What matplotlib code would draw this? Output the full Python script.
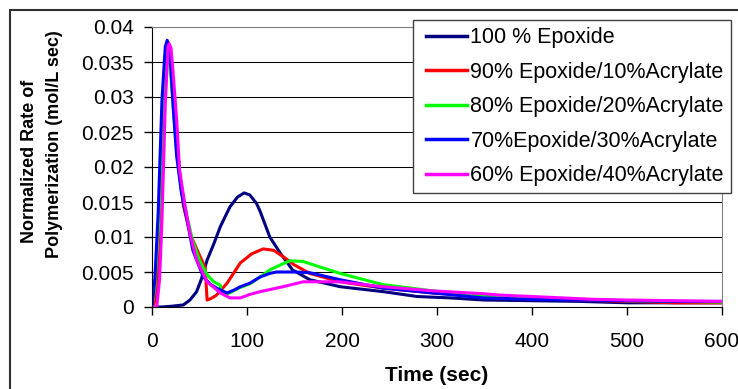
import numpy as np
import matplotlib.pyplot as plt
from matplotlib.patches import Rectangle

plt.rcParams['font.family'] = ['Liberation Sans', 'DejaVu Sans']

# 100 % Epoxide
t_100 = [0, 10, 20, 33, 40, 47, 52, 58, 65, 72, 82, 90, 97, 103, 110, 114, 124, 135, 148,
         166, 198, 243, 279, 314, 349, 400, 450, 500, 550, 600]
r_100 = [0, 0, 0.0001, 0.0003, 0.001, 0.0022, 0.004, 0.0067, 0.009, 0.0115, 0.0143, 0.0157,
         0.0163, 0.016, 0.0148, 0.0136, 0.010, 0.0077, 0.0053, 0.0039, 0.0029, 0.0022, 0.0015,
         0.0013, 0.0010, 0.0009, 0.0008, 0.0006, 0.0006, 0.0006]

# 90% Epoxide/10%Acrylate
t_90 = [0, 4, 8, 12, 15, 17, 19, 22, 26, 30, 33, 40, 49, 56, 58, 62, 68, 79, 93, 105, 117,
        128, 138, 150, 166, 198, 243, 296, 349, 400, 450, 500, 550, 600]
r_90 = [0, 0.001, 0.008, 0.025, 0.035, 0.0378, 0.037, 0.032, 0.024, 0.018, 0.0145, 0.0105,
        0.0077, 0.0056, 0.001, 0.0012, 0.0017, 0.0034, 0.0063, 0.0076, 0.0083, 0.0081, 0.0072,
        0.006, 0.0048, 0.0036, 0.0027, 0.002, 0.0016, 0.0012, 0.0010, 0.0008, 0.0006, 0.0006]

# 80% Epoxide/20%Acrylate
t_80 = [0, 3, 7, 11, 14, 16, 18, 21, 26, 31, 37, 43, 50, 58, 65, 72, 72.5, 80, 93, 103, 114,
        124, 135, 145, 159, 175, 198, 243, 296, 349, 400, 450, 500, 550, 600]
r_80 = [0, 0.003, 0.012, 0.028, 0.036, 0.0375, 0.036, 0.031, 0.022, 0.0168, 0.0128, 0.0094,
        0.0067, 0.0046, 0.0036, 0.0031, 0.0022, 0.0019, 0.0028, 0.0033, 0.0043, 0.0053, 0.006,
        0.0066, 0.0065, 0.0058, 0.0048, 0.0032, 0.0023, 0.0016, 0.0013, 0.0011, 0.0009,
        0.0008, 0.0007]

# 70%Epoxide/30%Acrylate
t_70 = [0, 3, 6.5, 10.5, 14, 16, 18, 19.6, 22.5, 26, 31, 37, 43, 54, 62, 68, 79, 86, 93, 103,
        114, 124, 131, 150, 166, 198, 243, 296, 349, 400, 450, 500, 550, 600]
r_70 = [0, 0.004, 0.0134, 0.0296, 0.0372, 0.0381, 0.037, 0.0348, 0.0281, 0.0215, 0.0163,
        0.0124, 0.0081, 0.0043, 0.0032, 0.0027, 0.002, 0.0024, 0.0029, 0.0034, 0.0043, 0.0048,
        0.005, 0.005, 0.0049, 0.0039, 0.0027, 0.002, 0.0013, 0.0011, 0.0010, 0.0009, 0.0008,
        0.0008]

# 60% Epoxide/40%Acrylate
t_60 = [0, 5, 8, 10.5, 14, 17, 18, 20, 22, 26, 29, 35, 40, 47, 58, 72, 82, 93, 103, 114, 138,
        159, 198, 243, 261, 296, 349, 366, 400, 464, 500, 550, 600]
r_60 = [0, 0, 0.004, 0.0124, 0.029, 0.0372, 0.0376, 0.037, 0.0339, 0.0267, 0.0196, 0.0143,
        0.0105, 0.0067, 0.0036, 0.002, 0.0013, 0.0013, 0.0018, 0.0022, 0.0029, 0.0036, 0.0036,
        0.0029, 0.0027, 0.0023, 0.0019, 0.0017, 0.0015, 0.0011, 0.0010, 0.0009, 0.0008]

labels = ['100 % Epoxide', '90% Epoxide/10%Acrylate', '80% Epoxide/20%Acrylate',
          '70%Epoxide/30%Acrylate', '60% Epoxide/40%Acrylate']
colors = ['#000080', '#ff0000', '#00ff00', '#0000ff', '#ff00ff']
yticks = [0, 0.005, 0.01, 0.015, 0.02, 0.025, 0.03, 0.035, 0.04]
ytick_labels = ['0', '0.005', '0.01', '0.015', '0.02', '0.025', '0.03', '0.035', '0.04']
xticks = [0, 100, 200, 300, 400, 500, 600]

fig = plt.figure(figsize=(7.38, 3.89), dpi=100)
ax = fig.add_axes([152/738, 1 - 307/389, (722 - 152)/738, (307 - 27)/389])

series = [(t_100, r_100), (t_90, r_90), (t_80, r_80), (t_70, r_70), (t_60, r_60)]
for (t, r), lab, c in zip(series, labels, colors):
    ax.plot(t, r, color=c, lw=2.2, label=lab, solid_joinstyle='round')

ax.set_xlim(0, 600)
ax.set_ylim(0, 0.04)
ax.set_xticks(xticks)
ax.set_yticks(yticks)
ax.set_yticklabels(ytick_labels)
for y in yticks[1:]:
    ax.axhline(y, color='black', lw=0.75, zorder=0)
ax.tick_params(labelsize=15, length=6, width=1, direction='out')
ax.tick_params(axis='x', pad=12)
ax.tick_params(axis='y', pad=7)

ax.spines['left'].set_color('black')
ax.spines['bottom'].set_color('black')
ax.spines['top'].set_color('#808080')
ax.spines['right'].set_color('#808080')

ax.set_xlabel('Time (sec)', fontsize=15, fontweight='bold', labelpad=11)
fig.text(30/738, 1 - 161/389, 'Normalized Rate of', rotation=90, fontsize=13,
         fontweight='bold', ha='center', va='center')
fig.text(55/738, 1 - 144/389, 'Polymerization (mol/L sec)', rotation=90, fontsize=13,
         fontweight='bold', ha='center', va='center')

fs = 15.5
leg = ax.legend(loc='upper left', bbox_to_anchor=(413/738, 1 - 20/389),
                bbox_transform=fig.transFigure, fontsize=fs, frameon=True,
                fancybox=False, framealpha=1, edgecolor='#404040', borderpad=0.33,
                labelspacing=0.63, handlelength=2.19, handletextpad=0.15, borderaxespad=0)
leg.get_frame().set_linewidth(1)
for line in leg.get_lines():
    line.set_linewidth(2.5)
    xd = np.asarray(line.get_xdata(), dtype=float)
    line.set_xdata(np.linspace(xd[0] + 4.3, xd[-1], len(xd)))

# chart area border
fig.patches.append(Rectangle((10/738, -0.5), 2, 1.5 - 10/389, transform=fig.transFigure,
                             fill=False, edgecolor='#303030', lw=1.5))

fig.savefig('out.png', dpi=100)
